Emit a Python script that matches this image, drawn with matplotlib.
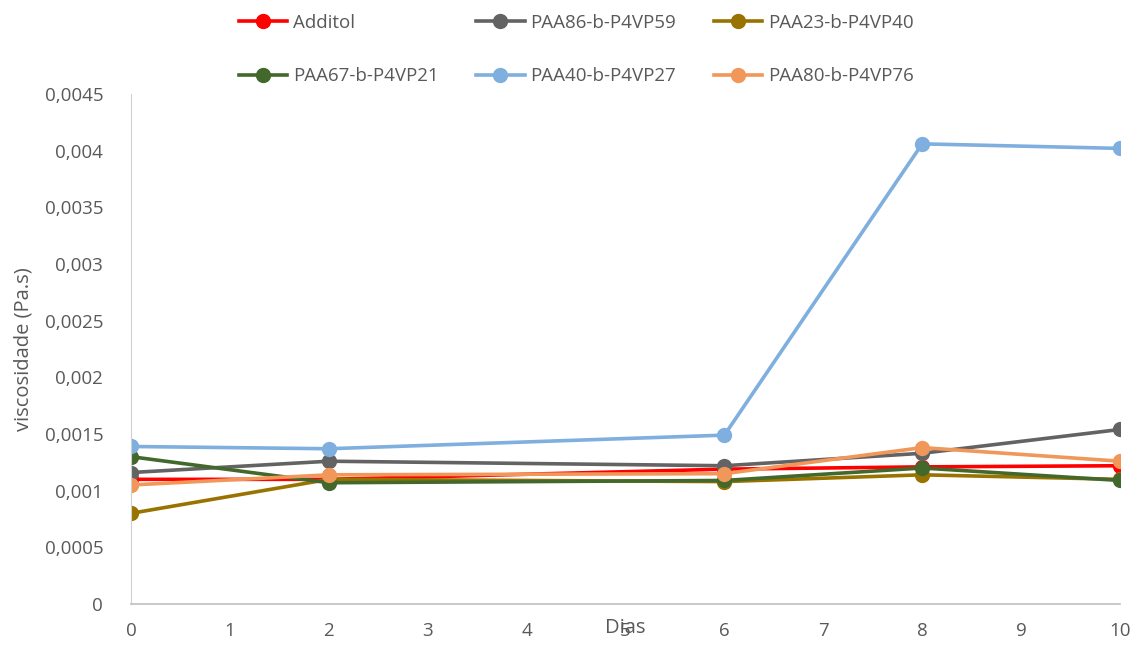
import matplotlib
matplotlib.use("Agg")
import matplotlib.pyplot as plt
from matplotlib.ticker import FuncFormatter, MultipleLocator

dias = [0, 2, 6, 8, 10]

additol = [0.00110, 0.00110, 0.00119, 0.00121, 0.00122]
paa86 = [0.00116, 0.00126, 0.00122, 0.00133, 0.00154]
paa23 = [0.00080, 0.00110, 0.00108, 0.00114, 0.00110]
paa67 = [0.00130, 0.00107, 0.00109, 0.00120, 0.00109]
paa40 = [0.00139, 0.00137, 0.00149, 0.00406, 0.00402]
paa80 = [0.00105, 0.00114, 0.00115, 0.00138, 0.00126]

series = [
    ("Additol", additol, "#FF0000"),
    ("PAA86-b-P4VP59", paa86, "#636363"),
    ("PAA23-b-P4VP40", paa23, "#997300"),
    ("PAA67-b-P4VP21", paa67, "#43682B"),
    ("PAA40-b-P4VP27", paa40, "#7EAFDE"),
    ("PAA80-b-P4VP76", paa80, "#F1975A"),
]

plt.rcParams['font.family'] = ['Open Sans', 'DejaVu Sans']
txt = "#595959"

fig = plt.figure(figsize=(11.41, 6.46), dpi=100)
ax = fig.add_axes([0.1148, 0.065, 0.8668, 0.7895])

for name, vals, col in series:
    ax.plot(dias, vals, color=col, lw=2.6, marker='o', ms=10, label=name)

ax.set_xlim(0, 10)
ax.set_ylim(0, 0.0045)
ax.xaxis.set_major_locator(MultipleLocator(1))
ax.yaxis.set_major_locator(MultipleLocator(0.0005))
ax.yaxis.set_major_formatter(FuncFormatter(lambda v, p: ('%g' % round(v, 6)).replace('.', ',')))

for s in ['top', 'right']:
    ax.spines[s].set_visible(False)
ax.spines['left'].set_color('#D0D0D0')
ax.spines['bottom'].set_color('#BFBFBF')
ax.spines['bottom'].set_linewidth(1.2)
ax.tick_params(length=0, labelsize=13.5, colors=txt)
ax.tick_params(axis='y', pad=20)
ax.tick_params(axis='x', pad=13)

ax.set_ylabel("viscosidade (Pa.s)", fontsize=14.5, color=txt, labelpad=8)
ax.set_xlabel("Dias", fontsize=14.5, color=txt)
ax.xaxis.set_label_coords(0.5, -0.047)
ax.xaxis.label.set_verticalalignment('center')

# row-major order like the original legend
h, l = ax.get_legend_handles_labels()
order = [0, 3, 1, 4, 2, 5]
fig.legend([h[i] for i in order], [l[i] for i in order],
           loc='upper center', bbox_to_anchor=(0.505, 1.005), ncol=3, frameon=False,
           fontsize=13.5, labelcolor=txt, columnspacing=2.0, handlelength=2.6,
           handletextpad=0.3, labelspacing=1.9)

fig.savefig("out.png", dpi=100)
